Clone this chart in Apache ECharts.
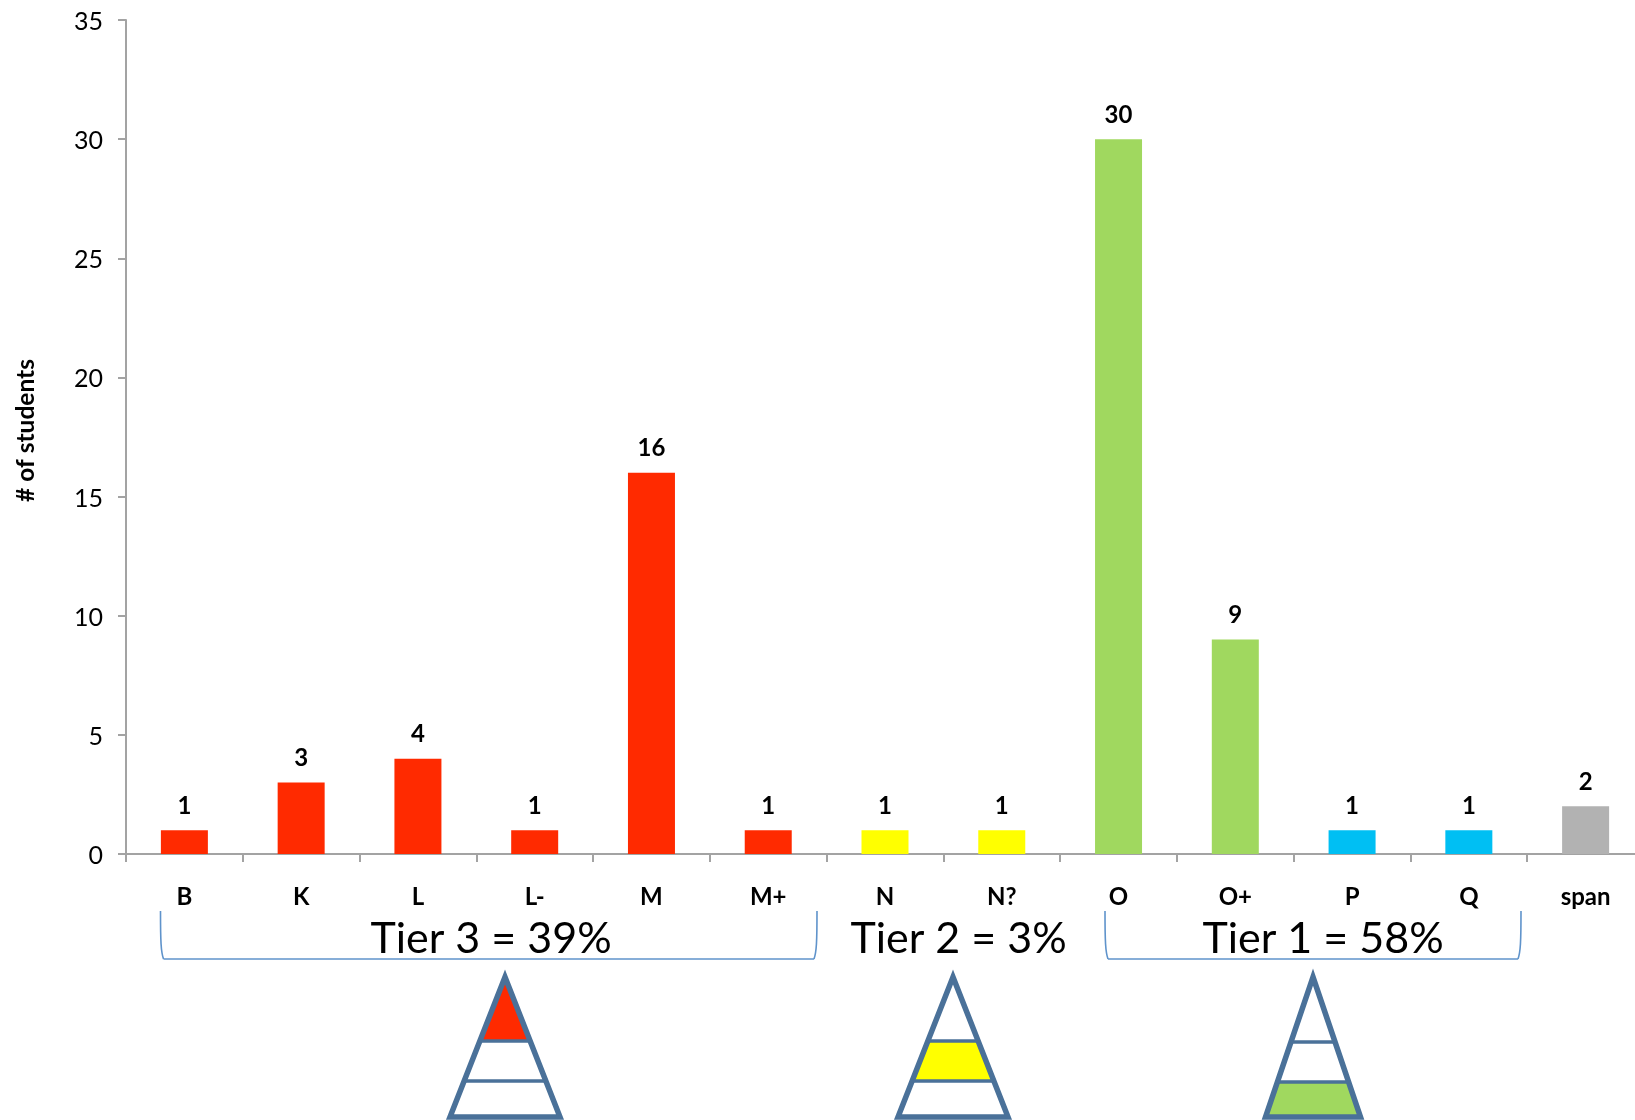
<!DOCTYPE html>
<html><head><meta charset="utf-8">
<style>html,body{margin:0;padding:0;background:#fff}#c{width:1635px;height:1120px}</style>
<script src="https://cdn.jsdelivr.net/npm/echarts@6/dist/echarts.min.js"></script>
</head><body><div id="c"></div>
<script>
const categories=['B','K','L','L-','M','M+','N','N?','O','O+','P','Q','span'];
const values=[1,3,4,1,16,1,1,1,30,9,1,1,2];
const RED='#FF2A00',YEL='#FFFF00',GRN='#A0D85F',BLU='#00BFF3',GRY='#B2B2B2';
const barColors=[RED,RED,RED,RED,RED,RED,YEL,YEL,GRN,GRN,BLU,BLU,GRY];
const tierLabels=['Tier 3 = 39%','Tier 2 = 3%','Tier 1 = 58%'];
const FONT='Lato';
const AXIS='#A3A3A3', BRK='#5F93CB', PYR='#4A7199';

function bracket(l,r){
  const st={fill:'none',stroke:BRK,lineWidth:1.6};
  return [
    {type:'bezierCurve',shape:{x1:l,y1:911,cpx1:l,cpy1:942,cpx2:l+0.5,cpy2:952,x2:l+3,y2:959},style:st},
    {type:'line',shape:{x1:l+3,y1:959,x2:r-3,y2:959},style:st},
    {type:'bezierCurve',shape:{x1:r-3,y1:959,cpx1:r-0.5,cpy1:952,cpx2:r,cpy2:942,x2:r,y2:911},style:st}
  ];
}
function tierText(t,cx){
  return {type:'text',x:cx,y:939,style:{text:t,fill:'#000',font:`43px ${FONT}`,align:'center',verticalAlign:'middle'}};
}
function pyramid(cx,hw,apex,y1,y2,base,fillBand,color){
  const slope=hw/(base-apex), at=y=>(y-apex)*slope;
  const ys=[[apex,y1],[y1,y2],[y2,base]][fillBand];
  const pts=[[cx-at(ys[0]),ys[0]],[cx+at(ys[0]),ys[0]],[cx+at(ys[1]),ys[1]],[cx-at(ys[1]),ys[1]]];
  const s={stroke:PYR,lineWidth:4.5,fill:'none',lineJoin:'miter',miterLimit:10};
  return [
    {type:'polygon',shape:{points:pts},style:{fill:color}},
    {type:'polygon',shape:{points:[[cx,apex],[cx+hw,base],[cx-hw,base]]},style:{...s,lineWidth:5.5}},
    {type:'line',shape:{x1:cx-at(y1),y1:y1,x2:cx+at(y1),y2:y1},style:{...s,lineWidth:3.5}},
    {type:'line',shape:{x1:cx-at(y2),y1:y2,x2:cx+at(y2),y2:y2},style:{...s,lineWidth:3.5}}
  ];
}
const chart=echarts.init(document.getElementById('c'),null,{renderer:'canvas'});
chart.setOption({
  animation:false,
  backgroundColor:'#fff',
  grid:{left:126,top:20,width:1518,height:834,containLabel:false,outerBoundsMode:'none'},
  xAxis:{type:'category',data:categories,
    axisLine:{lineStyle:{color:AXIS,width:2}},
    axisTick:{show:true,alignWithLabel:false,length:8,lineStyle:{color:AXIS,width:2}},
    axisLabel:{interval:0,margin:31,color:'#000',fontFamily:FONT,fontWeight:'bold',fontSize:24}},
  yAxis:{type:'value',min:0,max:35,interval:5,name:'# of students',nameLocation:'middle',nameGap:87,
    nameTextStyle:{color:'#000',fontFamily:FONT,fontWeight:'bold',fontSize:24.5,padding:[0,0,0,13]},
    splitLine:{show:false},
    axisLine:{show:true,lineStyle:{color:AXIS,width:2}},
    axisTick:{show:true,length:8,lineStyle:{color:AXIS,width:2}},
    axisLabel:{margin:23,verticalAlign:'top',lineHeight:4,color:'#000',fontFamily:FONT,fontSize:25}},
  series:[{type:'bar',barWidth:47,
    data:values.map((v,i)=>({value:v,itemStyle:{color:barColors[i]}})),
    label:{show:true,position:'top',distance:12,color:'#000',fontFamily:FONT,fontWeight:'bold',fontSize:24}}],
  graphic:[
    ...bracket(160.5,817),...bracket(1105,1521),
    tierText(tierLabels[0],491),tierText(tierLabels[1],958.5),tierText(tierLabels[2],1323),
    ...pyramid(505,55,977,1041,1081,1117,0,RED),
    ...pyramid(953,55,977,1041,1081,1117,1,YEL),
    ...pyramid(1313,47.5,977,1042,1082,1117,2,GRN)
  ]
});
</script></body></html>
